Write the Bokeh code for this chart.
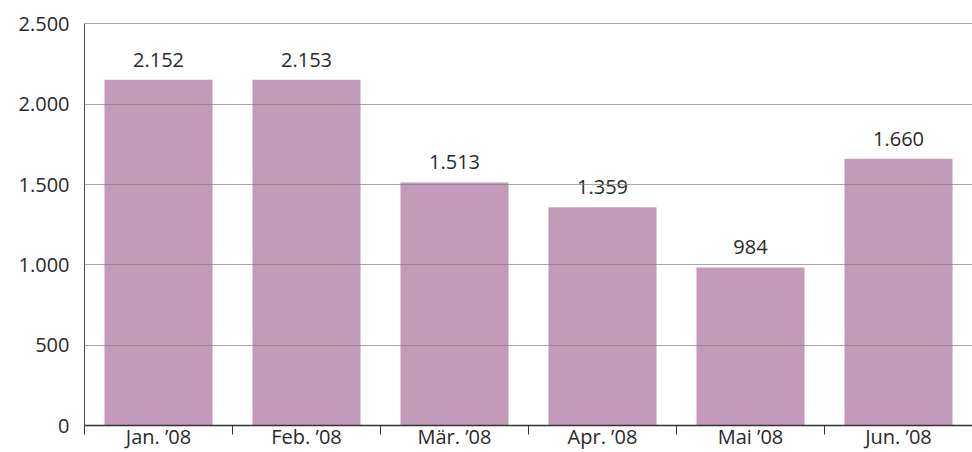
from bokeh.plotting import figure
from bokeh.models import FixedTicker, LinearAxis, Range1d, ColumnDataSource, LabelSet, Grid
from bokeh.core.properties import value
from bokeh.embed import file_html
from bokeh.resources import INLINE

months = ["Jan. ’08", "Feb. ’08", "Mär. ’08", "Apr. ’08", "Mai ’08", "Jun. ’08"]
values = [2152, 2153, 1513, 1359, 984, 1660]
y_ticks = [0, 500, 1000, 1500, 2000, 2500]

def de(v):
    return f"{v:,}".replace(",", ".")

FONT = "Open Sans"
TXT = "#2a2a2a"
FS = "20px"

n = len(months)
xs = [i + 0.5 for i in range(n)]
src = ColumnDataSource(dict(x=xs, top=values, label=[de(v) for v in values]))

p = figure(width=972, height=452, x_range=Range1d(0, n), y_range=Range1d(0, y_ticks[-1] * 1.001),
           output_backend="svg", toolbar_location=None,
           x_axis_type=None, y_axis_type=None,
           min_border_left=84, min_border_right=0, min_border_top=23, min_border_bottom=27)
p.outline_line_color = None

p.vbar(x="x", top="top", bottom=0, width=0.73, source=src, fill_color="#c49ab9", line_color=None)

yax = LinearAxis(ticker=FixedTicker(ticks=y_ticks),
                 major_label_overrides={v: de(v) for v in y_ticks})
yax.major_tick_out = 0
yax.major_tick_in = 0
yax.minor_tick_out = 0
yax.minor_tick_in = 0
yax.axis_line_color = "#444444"
yax.axis_line_width = 1
yax.major_label_standoff = 15
yax.major_label_text_font = FONT
yax.major_label_text_font_size = FS
yax.major_label_text_color = TXT
p.add_layout(yax, "left")

xax = LinearAxis(ticker=FixedTicker(ticks=xs, minor_ticks=list(range(n + 1))),
                 major_label_overrides={x: m for x, m in zip(xs, months)})
xax.major_tick_out = 0
xax.major_tick_in = 0
xax.minor_tick_out = 9
xax.minor_tick_in = 0
xax.minor_tick_line_color = "#333333"
xax.minor_tick_line_width = 1
xax.axis_line_color = "#333333"
xax.axis_line_width = 1.5
xax.major_label_standoff = -12
xax.major_label_text_font = FONT
xax.major_label_text_font_size = FS
xax.major_label_text_color = TXT
p.add_layout(xax, "below")

grid = Grid(dimension=1, ticker=FixedTicker(ticks=y_ticks[1:]),
            grid_line_color="#808080", grid_line_alpha=0.7, level="overlay")
p.add_layout(grid)

labels = LabelSet(x="x", y="top", text="label", source=src, text_align="center",
                  text_baseline="alphabetic", y_offset=13, text_font=value(FONT),
                  text_font_size=value(FS), text_color=TXT)
p.add_layout(labels)

open("out.html", "w").write(file_html(p, INLINE))
